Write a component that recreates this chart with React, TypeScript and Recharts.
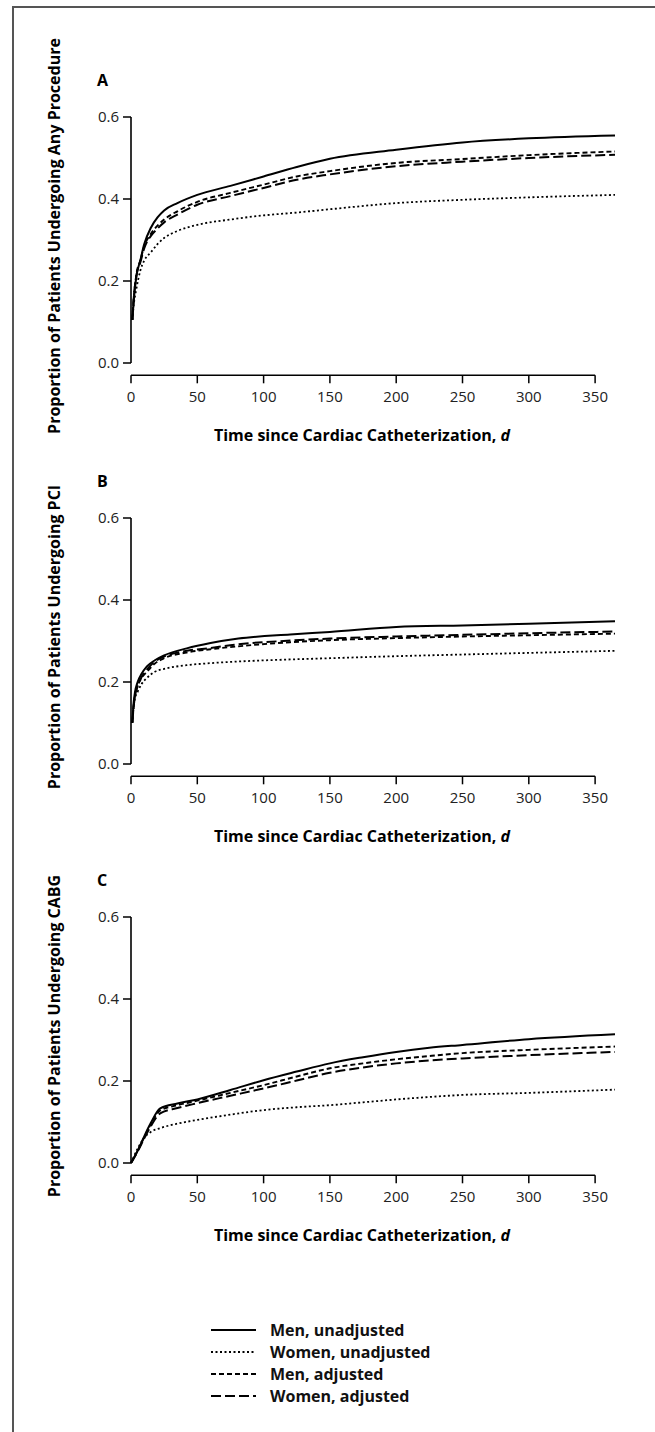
import React from "react";
import { LineChart, Line, XAxis, YAxis, ReferenceLine } from "recharts";

// Panel A: any procedure
const daysA = [1, 2, 4, 7, 10, 15, 20, 25, 35, 50, 75, 100, 125, 150, 200, 250, 300, 365];
const menUnadjA = [0.105, 0.15, 0.21, 0.25, 0.29, 0.33, 0.355, 0.372, 0.39, 0.41, 0.432, 0.455, 0.478, 0.498, 0.52, 0.538, 0.548, 0.555];
const womenUnadjA = [0.105, 0.14, 0.18, 0.225, 0.25, 0.27, 0.29, 0.305, 0.322, 0.337, 0.35, 0.36, 0.367, 0.375, 0.39, 0.398, 0.404, 0.41];
const menAdjA = [0.105, 0.155, 0.215, 0.25, 0.285, 0.315, 0.335, 0.35, 0.37, 0.393, 0.415, 0.435, 0.455, 0.468, 0.488, 0.4975, 0.507, 0.516];
const womenAdjA = [0.105, 0.155, 0.212, 0.245, 0.28, 0.31, 0.328, 0.343, 0.362, 0.386, 0.407, 0.427, 0.447, 0.46, 0.48, 0.491, 0.5, 0.508];

// Panel B: PCI
const daysB = [1, 2, 3, 5, 8, 12, 18, 25, 42, 60, 81, 120, 150, 200, 250, 300, 365];
const menUnadjB = [0.103, 0.15, 0.175, 0.2, 0.22, 0.238, 0.253, 0.265, 0.282, 0.295, 0.306, 0.316, 0.322, 0.334, 0.338, 0.342, 0.348];
const womenUnadjB = [0.1, 0.14, 0.16, 0.176, 0.195, 0.21, 0.225, 0.232, 0.241, 0.246, 0.25, 0.255, 0.258, 0.263, 0.267, 0.271, 0.276];
const menAdjB = [0.1, 0.14, 0.165, 0.19, 0.21, 0.225, 0.245, 0.258, 0.272, 0.28, 0.287, 0.297, 0.302, 0.307, 0.311, 0.314, 0.318];
const womenAdjB = [0.1, 0.14, 0.165, 0.19, 0.212, 0.23, 0.25, 0.262, 0.276, 0.283, 0.292, 0.301, 0.306, 0.311, 0.315, 0.319, 0.323];

// Panel C: CABG
const daysC = [0, 5, 10, 15, 22, 35, 50, 75, 100, 125, 150, 175, 200, 225, 250, 300, 365];
const menUnadjC = [0, 0.03, 0.065, 0.098, 0.133, 0.145, 0.155, 0.178, 0.202, 0.223, 0.243, 0.258, 0.271, 0.281, 0.288, 0.302, 0.314];
const womenUnadjC = [0, 0.035, 0.062, 0.076, 0.085, 0.096, 0.105, 0.118, 0.129, 0.136, 0.141, 0.148, 0.155, 0.161, 0.166, 0.171, 0.179];
const menAdjC = [0, 0.03, 0.063, 0.095, 0.128, 0.141, 0.152, 0.171, 0.19, 0.211, 0.231, 0.243, 0.253, 0.261, 0.268, 0.276, 0.284];
const womenAdjC = [0, 0.028, 0.06, 0.09, 0.121, 0.134, 0.146, 0.164, 0.182, 0.201, 0.22, 0.233, 0.243, 0.25, 0.255, 0.263, 0.271];

const xTicks = [0, 50, 100, 150, 200, 250, 300, 350];
const yTicks = [0, 0.2, 0.4, 0.6];

const seriesStyle = [
  { key: "menUnadj", name: "Men, unadjusted", dash: undefined as string | undefined, width: 2 },
  { key: "womenUnadj", name: "Women, unadjusted", dash: "2 2.5", width: 1.8 },
  { key: "menAdj", name: "Men, adjusted", dash: "5 3", width: 1.9 },
  { key: "womenAdj", name: "Women, adjusted", dash: "10 4", width: 2 },
];

const FONT = "'Open Sans', 'DejaVu Sans', sans-serif";
const CH = 300;
const AXIS_FLOOR = -0.03;

type PanelProps = {
  top: number;
  letter: string;
  yTitle: string;
  days: number[];
  menUnadj: number[];
  womenUnadj: number[];
  menAdj: number[];
  womenAdj: number[];
};

const Panel = ({ top, letter, yTitle, days, menUnadj, womenUnadj, menAdj, womenAdj }: PanelProps) => {
  const data = days.map((d, i) => ({
    day: d,
    menUnadj: menUnadj[i],
    womenUnadj: womenUnadj[i],
    menAdj: menAdj[i],
    womenAdj: womenAdj[i],
  }));
  const plotTop = top + 10;
  const plotMid = plotTop + 123;

  return (
    <>
      <div style={{ position: "absolute", left: 0, top, width: 655, height: CH }}>
        <LineChart width={655} height={CH} data={data} margin={{ top: 10, right: 40, bottom: 1.7, left: 71 }}>
          <XAxis
            type="number"
            dataKey="day"
            domain={[0, 365]}
            ticks={xTicks}
            axisLine={false}
            tickSize={8}
            tickMargin={8}
            height={30}
            tickLine={{ stroke: "#000", strokeWidth: 1.5 }}
            tick={{ fill: "#222", fontSize: 15, fontFamily: FONT }}
          />
          <YAxis
            type="number"
            domain={[AXIS_FLOOR, 0.6]}
            ticks={yTicks}
            axisLine={false}
            width={60}
            tickSize={8}
            tickMargin={4}
            tickFormatter={(v: number) => v.toFixed(1)}
            tickLine={{ stroke: "#000", strokeWidth: 1.5 }}
            tick={{ fill: "#222", fontSize: 15, fontFamily: FONT }}
          />
          <ReferenceLine segment={[{ x: 0, y: 0 }, { x: 0, y: 0.6 }]} stroke="#000" strokeWidth={1.6} ifOverflow="visible" />
          <ReferenceLine segment={[{ x: 0, y: AXIS_FLOOR }, { x: 350, y: AXIS_FLOOR }]} stroke="#000" strokeWidth={1.6} ifOverflow="visible" />
          {seriesStyle.map((s) => (
            <Line
              key={s.key}
              type="monotone"
              dataKey={s.key}
              name={s.name}
              stroke="#000"
              strokeWidth={s.width}
              strokeDasharray={s.dash}
              dot={false}
              activeDot={false}
              isAnimationActive={false}
            />
          ))}
        </LineChart>
      </div>
      <div style={{ position: "absolute", left: 97, top: plotTop - 47, fontFamily: FONT, fontWeight: 700, fontSize: 16, lineHeight: "20px" }}>
        {letter}
      </div>
      <div
        style={{
          position: "absolute",
          left: 54,
          top: plotMid - 4,
          width: 520,
          transform: "translate(-50%, -50%) rotate(-90deg)",
          textAlign: "center",
          fontFamily: FONT,
          fontWeight: 700,
          fontSize: 16,
          lineHeight: "20px",
          whiteSpace: "nowrap",
        }}
      >
        {yTitle}
      </div>
      <div
        style={{
          position: "absolute",
          left: 362,
          top: plotTop + 318,
          transform: "translate(-50%, -50%)",
          fontFamily: FONT,
          fontWeight: 700,
          fontSize: 16,
          lineHeight: "20px",
          whiteSpace: "nowrap",
        }}
      >
        Time since Cardiac Catheterization, <i>d</i>
      </div>
    </>
  );
};

export default function App() {
  return (
    <div style={{ position: "absolute", left: 0, top: 0, width: 655, height: 1432, background: "#fff", overflow: "hidden" }}>
      <div style={{ position: "absolute", left: 12, top: 6, width: 700, height: 1500, borderLeft: "2px solid #555", borderTop: "2px solid #555" }} />
      <Panel top={107.3} letter="A" yTitle="Proportion of Patients Undergoing Any Procedure" days={daysA} menUnadj={menUnadjA} womenUnadj={womenUnadjA} menAdj={menAdjA} womenAdj={womenAdjA} />
      <Panel top={507.7} letter="B" yTitle="Proportion of Patients Undergoing PCI" days={daysB} menUnadj={menUnadjB} womenUnadj={womenUnadjB} menAdj={menAdjB} womenAdj={womenAdjB} />
      <Panel top={906.7} letter="C" yTitle="Proportion of Patients Undergoing CABG" days={daysC} menUnadj={menUnadjC} womenUnadj={womenUnadjC} menAdj={menAdjC} womenAdj={womenAdjC} />
      <svg style={{ position: "absolute", left: 0, top: 1315 }} width={655} height={100}>
        {seriesStyle.map((s, i) => (
          <g key={s.key}>
            <line x1={211} x2={256} y1={15 + 22 * i} y2={15 + 22 * i} stroke="#000" strokeWidth={s.width} strokeDasharray={s.dash} />
            <text x={270} y={15 + 22 * i} dy="0.35em" fontFamily={FONT} fontWeight={700} fontSize={16} fill="#111">
              {s.name}
            </text>
          </g>
        ))}
      </svg>
    </div>
  );
}
